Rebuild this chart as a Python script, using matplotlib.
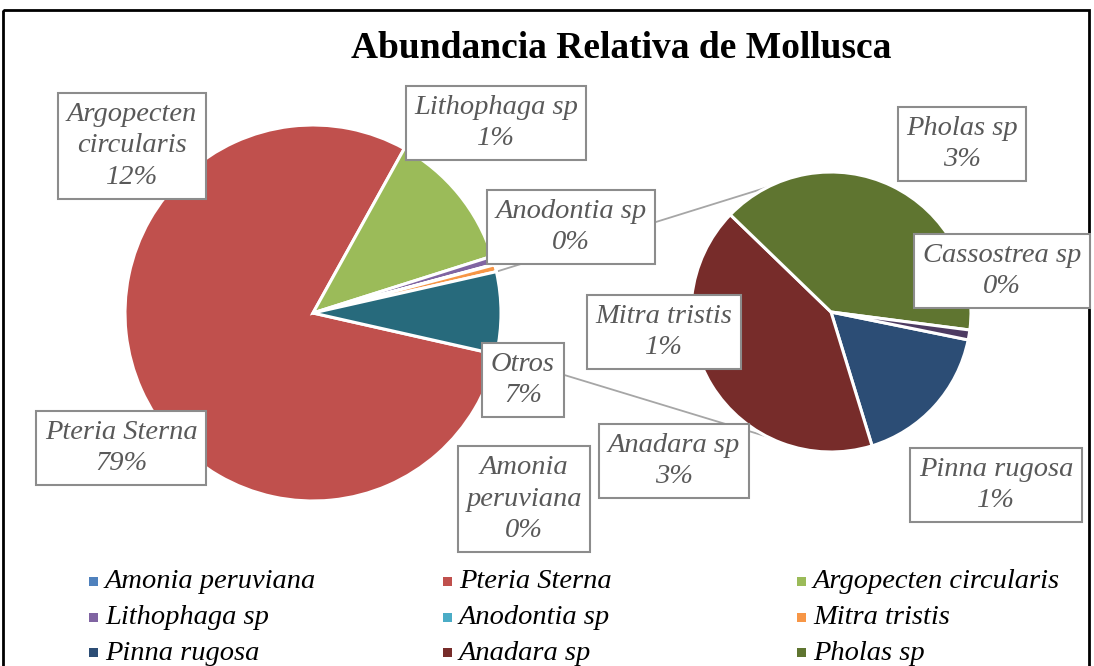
import numpy as np
import matplotlib
matplotlib.use('Agg')
import matplotlib.pyplot as plt
from matplotlib.patches import Rectangle

plt.rcParams['font.family'] = ['Liberation Serif', 'DejaVu Serif']

W, H = 1094, 666

# ---- data (percent) ----
main_labels = ['Amonia peruviana', 'Pteria Sterna', 'Argopecten circularis',
               'Lithophaga sp', 'Anodontia sp', 'Mitra tristis']
main_values = [0.02, 79.2, 12.0, 0.7, 0.05, 0.6]
main_colors = ['#4F81BD', '#C0504D', '#9BBB59', '#8064A2', '#4BACC6', '#F79646']

sec_labels = ['Pinna rugosa', 'Anadara sp', 'Pholas sp', 'Cassostrea sp']
sec_values = [1.2, 2.95, 2.8, 0.08]
sec_colors = ['#2C4D75', '#772C2A', '#5F7530', '#4D3B62']

otros_label = 'Otros'
otros_color = '#276A7C'
otros = sum(sec_values)

# data labels as placed in the original chart (text, box centre in px)
label_boxes = [
    ('Argopecten\ncircularis\n12%', 132, 146),
    ('Lithophaga sp\n1%', 496, 123),
    ('Anodontia sp\n0%', 571, 227),
    ('Pholas sp\n3%', 962, 144),
    ('Cassostrea sp\n0%', 1002, 271),
    ('Mitra tristis\n1%', 664, 332),
    ('Otros\n7%', 523, 380),
    ('Pteria Sterna\n79%', 121, 448),
    ('Anadara sp\n3%', 674, 461),
    ('Amonia\nperuviana\n0%', 524, 499),
    ('Pinna rugosa\n1%', 996, 485),
]

legend_labels = main_labels + sec_labels[:3]
legend_colors = main_colors + sec_colors[:3]


def fx(x):
    return x / W


def fy(y):
    return 1 - y / H


fig = plt.figure(figsize=(W / 100, H / 100), dpi=100)
fig.patch.set_facecolor('white')

# background axes in pixel coordinates
bg = fig.add_axes([0, 0, 1, 1])
bg.set_xlim(0, W)
bg.set_ylim(H, 0)
bg.axis('off')

# chart border
bg.add_patch(Rectangle((3, 10), 1086, 700, fill=False, ec='black', lw=2))

# main pie
c1, r1 = (313, 313), 188
ax1 = fig.add_axes([fx(c1[0] - r1), fy(c1[1] + r1), 2 * r1 / W, 2 * r1 / H])
otros_deg = otros / (sum(main_values) + otros) * 360
ax1.pie(main_values + [otros], colors=main_colors + [otros_color],
        startangle=-otros_deg / 2, counterclock=False, radius=1,
        wedgeprops=dict(edgecolor='white', linewidth=2.2))
ax1.set_xlim(-1, 1)
ax1.set_ylim(-1, 1)
ax1.axis('off')

# secondary pie
c2, r2 = (831, 312), 140
ax2 = fig.add_axes([fx(c2[0] - r2), fy(c2[1] + r2), 2 * r2 / W, 2 * r2 / H])
ax2.pie(sec_values, colors=sec_colors, startangle=-11.5, counterclock=False,
        radius=1, wedgeprops=dict(edgecolor='white', linewidth=2.2))
ax2.set_xlim(-1, 1)
ax2.set_ylim(-1, 1)
ax2.axis('off')

# series lines between the pies
for sgn in (1, -1):
    a1 = np.radians(sgn * otros_deg / 2)
    a2 = np.radians(sgn * 117)
    p1 = (c1[0] + r1 * np.cos(a1), c1[1] - r1 * np.sin(a1))
    p2 = (c2[0] + r2 * np.cos(a2), c2[1] - r2 * np.sin(a2))
    bg.plot([p1[0], p2[0]], [p1[1], p2[1]], color='#a6a6a6', lw=1.3, zorder=1)

# title
fig.text(fx(621), fy(48), 'Abundancia Relativa de Mollusca', ha='center', va='center',
         fontsize=27, fontweight='bold', color='black')

# data label boxes
for txt, cx, cy in label_boxes:
    fig.text(fx(cx), fy(cy), txt, ha='center', va='center', multialignment='center',
             fontsize=20.5, style='italic', color='#595959', linespacing=1.35,
             bbox=dict(boxstyle='square,pad=0.3', fc='white', ec='#8c8c8c', lw=1.5))

# legend (3 columns)
for i, (lab, col) in enumerate(zip(legend_labels, legend_colors)):
    row, cl = divmod(i, 3)
    x = 89 + 354 * cl
    y = 582 + 35.5 * row
    bg.add_patch(Rectangle((x, y - 5), 9, 9, fc=col, ec='none', zorder=3))
    bg.text(x + 16, y, lab, ha='left', va='center', fontsize=20.5, style='italic',
            color='black')

fig.savefig('out.png', dpi=100, facecolor='white')
